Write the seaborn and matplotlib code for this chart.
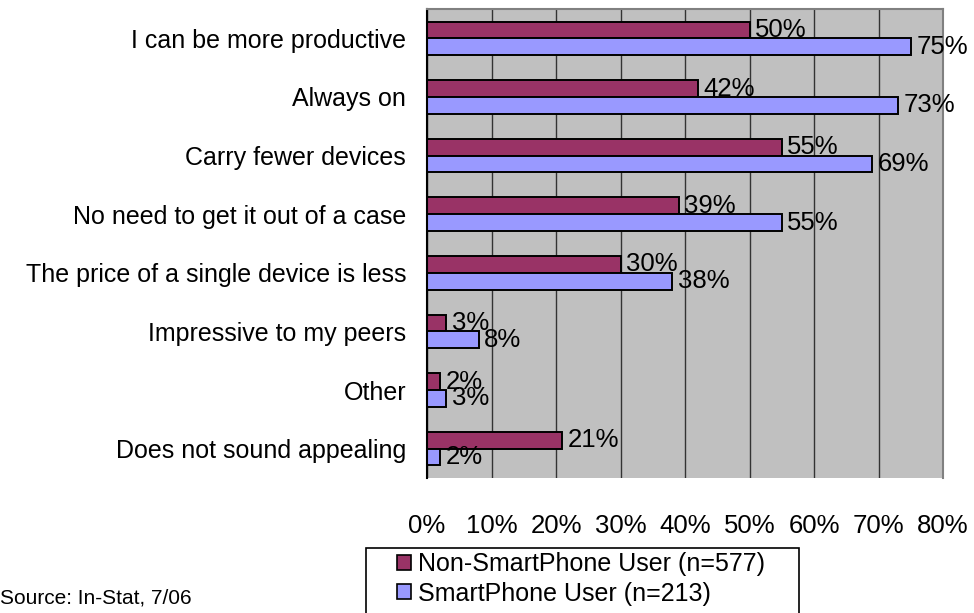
import pandas as pd
import seaborn as sns
import matplotlib.pyplot as plt
from matplotlib.patches import Patch, Rectangle

sns.set_style("white")
plt.rcParams['font.family'] = ['Liberation Sans', 'DejaVu Sans']
plt.rcParams['text.color'] = 'black'

categories = ["I can be more productive", "Always on", "Carry fewer devices",
              "No need to get it out of a case", "The price of a single device is less",
              "Impressive to my peers", "Other", "Does not sound appealing"]
non_smart = [50, 42, 55, 39, 30, 3, 2, 21]
smart = [75, 73, 69, 55, 38, 8, 3, 2]
series = ["Non-SmartPhone User (n=577)", "SmartPhone User (n=213)"]
colors = ["#993366", "#9999FF"]
x_ticks = [0, 10, 20, 30, 40, 50, 60, 70, 80]

df = pd.DataFrame({
    "category": categories * 2,
    "value": non_smart + smart,
    "series": [series[0]] * len(categories) + [series[1]] * len(categories),
})

fig = plt.figure(figsize=(9.74, 6.13), dpi=100)
ax = fig.add_axes([427 / 974, 1 - 478 / 613, (943 - 427) / 974, (478 - 9) / 613])

sns.barplot(data=df, y="category", x="value", hue="series", hue_order=series,
            palette=colors, saturation=1, orient="h", width=0.57, gap=0,
            edgecolor="black", linewidth=1.4, legend=False, ax=ax)

ax.set_facecolor("#C0C0C0")
ax.set_xlim(0, 80)
ax.set_ylim(7.5, -0.5)
ax.set_xticks(x_ticks)
ax.set_xticklabels([f"{t}%" for t in x_ticks], fontsize=18.5)
ax.tick_params(axis="x", length=6, width=1, color="#333333", pad=20,
               direction="out", labelcolor="black")
ax.tick_params(axis="y", length=0, pad=15, labelsize=18, labelcolor="black")
ax.xaxis.grid(True, color="#333333", linewidth=1)
ax.set_axisbelow(True)
ax.set_xlabel("")
ax.set_ylabel("")

ax.spines["left"].set_color("black")
ax.spines["left"].set_linewidth(1.5)
ax.spines["bottom"].set_visible(False)
ax.spines["top"].set_color("#808080")
ax.spines["right"].set_color("#808080")
ax.spines["top"].set_linewidth(1.5)
ax.spines["right"].set_linewidth(1.5)

for cont in ax.containers:
    ax.bar_label(cont, fmt="%d%%", padding=4, fontsize=18.5, color="black")

# legend box runs off the bottom edge like the original
fig.patches.append(Rectangle((366 / 974, -0.05), (799 - 366) / 974, 1 - 548 / 613 + 0.05,
                             transform=fig.transFigure, facecolor="white",
                             edgecolor="black", linewidth=1.2))
handles = [Patch(facecolor=c, edgecolor="black", linewidth=1.2) for c in colors]
fig.legend(handles, series, loc="upper left", bbox_to_anchor=(397 / 974, 1 - 552 / 613),
           fontsize=18, frameon=False, handlelength=0.55, handleheight=0.55,
           handletextpad=0.3, borderpad=0, labelspacing=0.22, borderaxespad=0)

fig.text(0.0, 1 - 598 / 613, "Source: In-Stat, 7/06", fontsize=15, va="center", ha="left")

fig.savefig("out.png", dpi=100)
